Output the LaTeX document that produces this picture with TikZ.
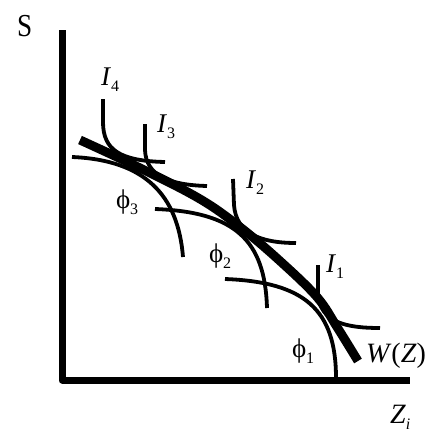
\documentclass[tikz,border=0pt]{standalone}
\usepackage{fontspec}
\setmainfont{Liberation Serif}
\newcommand\lsub[1]{\raisebox{-6pt}{\fontsize{16}{16}\selectfont #1}}
\begin{document}
\begin{tikzpicture}[x=1pt,y=-1pt,
  axisline/.style={line width=7pt, line join=round},
  wline/.style={line width=9pt},
  thincurve/.style={line width=3.8pt},
  lbl/.style={anchor=base west, inner sep=0pt, outer sep=0pt, font=\fontsize{27}{27}\selectfont}]
\useasboundingbox (0,0) rectangle (440,434);
% axes
\draw[axisline] (62,30) -- (62,380) -- (410,380);
% W(Z)
\draw[wline] plot[smooth, tension=0.6] coordinates {(80,140) (140,168) (200,199) (240,227) (280,261) (317,297) (337,327) (358,361)};
% indifference curves
\draw[thincurve] (103,99) -- (103,122) .. controls (103,150) and (120,161) .. (165,162);
\draw[thincurve] (145,124) -- (145,150) .. controls (146,176) and (170,185) .. (207,186);
\draw[thincurve] (233,179) -- (234,205) .. controls (236,233) and (260,243) .. (296,243);
\draw[thincurve] (318,265) -- (318,294) .. controls (320,322) and (345,328) .. (380,328);
% phi curves
\draw[thincurve] (72,157) .. controls (145,160) and (178,195) .. (183,257);
\draw[thincurve] (155,209) .. controls (235,212) and (265,240) .. (267,308);
\draw[thincurve] (225,279) .. controls (305,282) and (336,310) .. (336,378);
% labels
\node[lbl, font=\fontsize{32}{32}\selectfont, xscale=0.85] (S) at (17,36) {S};
\node[lbl] (I4) at (101,85) {\textit{I}\lsub{4}};
\node[lbl] (I3) at (157,132) {\textit{I}\lsub{3}};
\node[lbl] (I2) at (246,188) {\textit{I}\lsub{2}};
\node[lbl] (I1) at (326,272) {\textit{I}\lsub{1}};
\node[lbl] (p3) at (116,208) {ϕ\lsub{3}};
\node[lbl] (p2) at (209,262) {ϕ\lsub{2}};
\node[lbl] (p1) at (292,357) {ϕ\lsub{1}};
\node[lbl, font=\fontsize{28}{28}\selectfont] (W) at (366,362) {\textit{W}(\textit{Z})};
\node[lbl, font=\fontsize{28}{28}\selectfont] (Z) at (390,423) {\textit{Z}\lsub{\textit{i}}};
\end{tikzpicture}
\end{document}
